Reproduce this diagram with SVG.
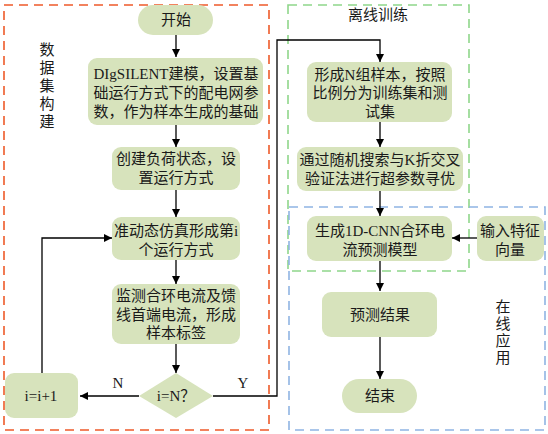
<svg xmlns="http://www.w3.org/2000/svg" width="548" height="434" viewBox="0 0 548 434">
<style>
.n{fill:#d7e3bc;stroke:none}
.t{font-family:"Liberation Serif","Noto Sans CJK SC",serif;font-size:15px;fill:#1a1a1a;text-anchor:middle;dominant-baseline:central}
.c{fill:none;stroke:#000;stroke-width:1.3}
.g{fill:none;stroke-width:1.6;stroke-dasharray:9,6}
</style>
<defs>
<marker id="a" viewBox="0 0 10 10" refX="10" refY="5" markerWidth="8" markerHeight="8" markerUnits="userSpaceOnUse" orient="auto"><path d="M0,0L10,5L0,10z" fill="#000"/></marker>
</defs>
<rect width="548" height="434" fill="#fff"/>
<g id="groups">
<rect class="g" x="4" y="5" width="265" height="425" stroke="#ee5a2a"/>
<rect class="g" x="288" y="5" width="181" height="266" stroke="#8fd68a"/>
<rect class="g" x="289" y="207" width="256" height="223" stroke="#8fb4e3"/>
<text class="t" x="47"><tspan x="47" y="50">数</tspan><tspan x="47" y="68">据</tspan><tspan x="47" y="86">集</tspan><tspan x="47" y="104">构</tspan><tspan x="47" y="122">建</tspan></text>
<text class="t" x="378" y="15">离线训练</text>
<text class="t" x="503"><tspan x="503" y="307">在</tspan><tspan x="503" y="324">线</tspan><tspan x="503" y="341">应</tspan><tspan x="503" y="358">用</tspan></text>
</g>
<g id="connectors">
<path class="c" d="M176,35V57" marker-end="url(#a)"/>
<path class="c" d="M176,125V147" marker-end="url(#a)"/>
<path class="c" d="M176,190V217" marker-end="url(#a)"/>
<path class="c" d="M176,260V284" marker-end="url(#a)"/>
<path class="c" d="M176,344V373" marker-end="url(#a)"/>
<path class="c" d="M139,396H80" marker-end="url(#a)"/>
<path class="c" d="M42,373V238H112" marker-end="url(#a)"/>
<path class="c" d="M213,396H277V40H380V62" marker-end="url(#a)"/>
<path class="c" d="M380,122V147" marker-end="url(#a)"/>
<path class="c" d="M380,191V216" marker-end="url(#a)"/>
<path class="c" d="M477,238H452" marker-end="url(#a)"/>
<path class="c" d="M380,261V291" marker-end="url(#a)"/>
<path class="c" d="M380,337V379" marker-end="url(#a)"/>
<text class="t" x="118" y="383">N</text>
<text class="t" x="243" y="383">Y</text>
</g>
<g id="start"><rect class="n" x="138" y="5" width="75" height="30" rx="15"/><text class="t" x="176" y="20">开始</text></g>
<g id="model"><rect class="n" x="88" y="58" width="175" height="67" rx="9"/><text class="t"><tspan x="176" y="74">DIgSILENT建模，设置基</tspan><tspan x="176" y="93">础运行方式下的配电网参</tspan><tspan x="176" y="112">数，作为样本生成的基础</tspan></text></g>
<g id="load"><rect class="n" x="112" y="147" width="128" height="43" rx="9"/><text class="t"><tspan x="176" y="159">创建负荷状态，设</tspan><tspan x="176" y="178">置运行方式</tspan></text></g>
<g id="sim"><rect class="n" x="112" y="217" width="128" height="43" rx="9"/><text class="t"><tspan x="176" y="231">准动态仿真形成第i</tspan><tspan x="176" y="250">个运行方式</tspan></text></g>
<g id="monitor"><rect class="n" x="112" y="284" width="128" height="60" rx="9"/><text class="t"><tspan x="176" y="296">监测合环电流及馈</tspan><tspan x="176" y="315">线首端电流，形成</tspan><tspan x="176" y="333">样本标签</tspan></text></g>
<g id="decision"><path class="n" d="M176,373L213,396L176,418L139,396z"/><text class="t" x="176" y="396">i=N？</text></g>
<g id="incr"><rect class="n" x="5" y="373" width="73" height="45" rx="9"/><text class="t" x="41" y="396">i=i+1</text></g>
<g id="samples"><rect class="n" x="307" y="62" width="145" height="60" rx="9"/><text class="t"><tspan x="380" y="75">形成N组样本，按照</tspan><tspan x="380" y="93">比例分为训练集和测</tspan><tspan x="380" y="112">试集</tspan></text></g>
<g id="search"><rect class="n" x="297" y="147" width="166" height="44" rx="9"/><text class="t"><tspan x="380" y="160">通过随机搜索与K折交叉</tspan><tspan x="380" y="179">验证法进行超参数寻优</tspan></text></g>
<g id="cnn"><rect class="n" x="307" y="216" width="145" height="45" rx="9"/><text class="t"><tspan x="380" y="231">生成1D-CNN合环电</tspan><tspan x="380" y="250">流预测模型</tspan></text></g>
<g id="input"><rect class="n" x="477" y="216" width="67" height="45" rx="9"/><text class="t"><tspan x="510" y="231">输入特征</tspan><tspan x="510" y="250">向量</tspan></text></g>
<g id="result"><rect class="n" x="322" y="292" width="115" height="45" rx="9"/><text class="t" x="380" y="315">预测结果</text></g>
<g id="end"><rect class="n" x="342" y="379" width="75" height="34" rx="17"/><text class="t" x="380" y="396">结束</text></g>
</svg>
